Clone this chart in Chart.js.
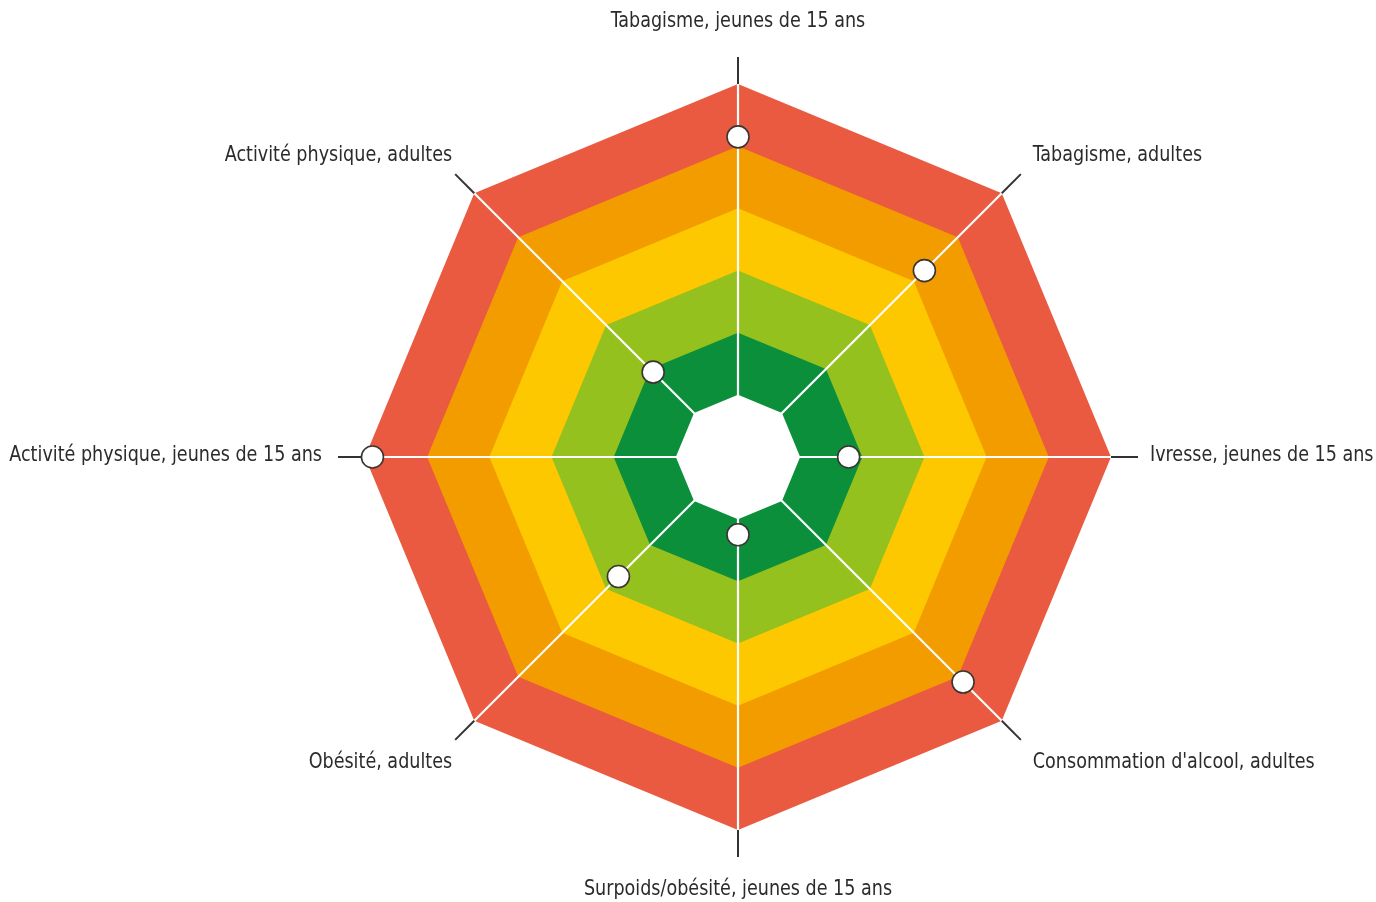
<!DOCTYPE html>
<html lang="fr">
<head>
<meta charset="utf-8">
<title>Radar</title>
<script src="https://cdn.jsdelivr.net/npm/chart.js@4/dist/chart.umd.min.js"></script>
<style>
  html, body { margin: 0; padding: 0; background: #ffffff; }
  #wrap { width: 1376px; height: 902px; }
</style>
</head>
<body>
<div id="wrap"><canvas id="c" width="1376" height="902"></canvas></div>
<script>
// ---- Data ----
const categories = [
  "Tabagisme, jeunes de 15 ans",
  "Tabagisme, adultes",
  "Ivresse, jeunes de 15 ans",
  "Consommation d'alcool, adultes",
  "Surpoids/obésité, jeunes de 15 ans",
  "Obésité, adultes",
  "Activité physique, jeunes de 15 ans",
  "Activité physique, adultes"
];
const scores = [5.15, 4.24, 1.78, 5.12, 1.25, 2.72, 5.88, 1.93];
const bandLevels = [1, 2, 3, 4, 5, 6];
const bandColors = ["#ffffff", "#0b8f3b", "#95c11f", "#fec800", "#f39c00", "#ea5a40"];
const scaleMax = 6;

// ---- Build datasets ----
const datasets = [{
  label: "Score",
  data: scores,
  showLine: false,
  fill: false,
  borderWidth: 0,
  pointRadius: 11,
  pointHoverRadius: 11,
  pointBackgroundColor: "#ffffff",
  pointBorderColor: "#3a3530",
  pointBorderWidth: 1.6
}];
bandLevels.forEach((lvl, i) => {
  datasets.push({
    label: "band" + lvl,
    data: categories.map(() => lvl),
    fill: "origin",
    backgroundColor: bandColors[i],
    borderColor: bandColors[i],
    borderWidth: 0,
    pointRadius: 0,
    pointHoverRadius: 0,
    tension: 0
  });
});

const LABEL_FONT = "21px 'DejaVu Sans Condensed', 'Liberation Sans Narrow', 'Liberation Sans', sans-serif";
const LABEL_SQUEEZE = 0.93;

const axisPlugin = {
  id: "axisLines",
  beforeDatasetDraw(chart, args) {
    if (args.index !== 0) return;
    const s = chart.scales.r;
    const ctx = chart.ctx;
    const rMax = s.getDistanceFromCenterForValue(scaleMax);
    const n = categories.length;
    ctx.save();
    for (let i = 0; i < n; i++) {
      const inner = s.getPointPosition(i, 0);
      const edge = s.getPointPosition(i, rMax);
      const outer = s.getPointPosition(i, rMax + 27);
      ctx.strokeStyle = "#ffffff";
      ctx.lineWidth = 2.2;
      ctx.beginPath();
      ctx.moveTo(inner.x, inner.y);
      ctx.lineTo(edge.x, edge.y);
      ctx.stroke();
      ctx.strokeStyle = "#333333";
      ctx.lineWidth = 2;
      ctx.beginPath();
      ctx.moveTo(edge.x, edge.y);
      ctx.lineTo(outer.x, outer.y);
      ctx.stroke();
    }
    ctx.restore();
  },
  afterDraw(chart) {
    const s = chart.scales.r;
    const ctx = chart.ctx;
    const rEnd = s.getDistanceFromCenterForValue(scaleMax) + 27;
    categories.forEach((lab, i) => {
      const p = s.getPointPosition(i, rEnd);
      const dx = (p.x - s.xCenter) / rEnd;
      const dy = (p.y - s.yCenter) / rEnd;
      let x = p.x, y = p.y + 2, align;
      if (Math.abs(dx) < 0.1) {
        align = "center";
        y += dy > 0 ? 31 : -37;
      } else if (Math.abs(dy) < 0.1) {
        align = dx > 0 ? "left" : "right";
        x += dx > 0 ? 12 : -16;
        y -= 3;
      } else {
        align = dx > 0 ? "left" : "right";
        x += dx > 0 ? 12 : -3;
        y += dy > 0 ? 21 : -21;
      }
      ctx.save();
      ctx.font = LABEL_FONT;
      ctx.fillStyle = "#2b2b2b";
      ctx.textBaseline = "middle";
      ctx.textAlign = align;
      ctx.translate(x, y);
      ctx.scale(LABEL_SQUEEZE, 1);
      ctx.fillText(lab, 0, 0);
      ctx.restore();
    });
  }
};

new Chart(document.getElementById("c"), {
  type: "radar",
  data: { labels: categories, datasets: datasets },
  options: {
    responsive: false,
    animation: false,
    layout: { padding: { left: 100, right: 0, top: 84, bottom: 72 } },
    elements: { line: { tension: 0 } },
    plugins: {
      legend: { display: false },
      tooltip: { enabled: false }
    },
    scales: {
      r: {
        min: 0,
        max: scaleMax,
        startAngle: 0,
        angleLines: { display: false },
        grid: { display: false },
        ticks: { display: false },
        pointLabels: { display: false }
      }
    }
  },
  plugins: [axisPlugin]
});
</script>
</body>
</html>
